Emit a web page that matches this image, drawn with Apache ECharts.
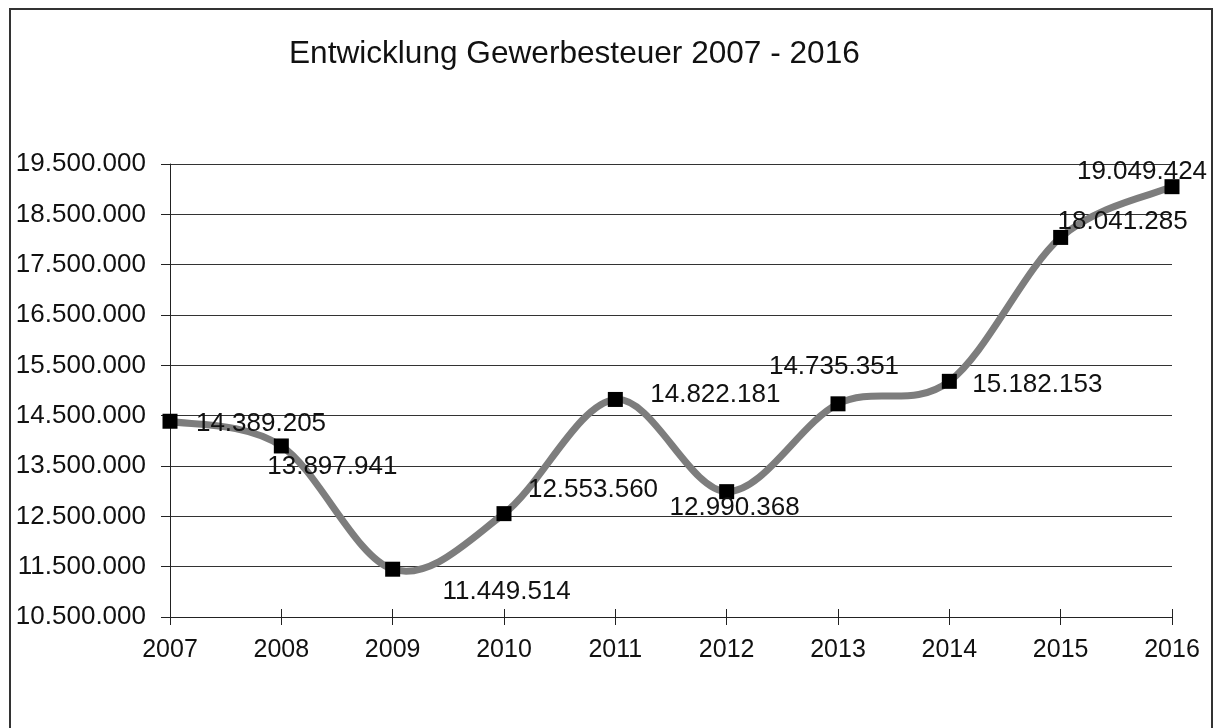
<!DOCTYPE html>
<html>
<head>
<meta charset="utf-8">
<script src="https://cdn.jsdelivr.net/npm/echarts@6/dist/echarts.min.js"></script>
<style>html,body{margin:0;padding:0;background:#fff}#c{width:1215px;height:728px}</style>
</head>
<body>
<div id="c"></div>
<script>
const years = ['2007','2008','2009','2010','2011','2012','2013','2014','2015','2016'];
const values = [14389205, 13897941, 11449514, 12553560, 14822181, 12990368, 14735351, 15182153, 18041285, 19049424];
const yMin = 10500000, yMax = 19500000, yStep = 1000000;
const titleText = 'Entwicklung Gewerbesteuer 2007 - 2016';
// label offsets (centre of label relative to the point), styling only
const labelOffsets = [[91,3],[51,21],[114,23],[89,-24],[100,-5],[8,16],[-4,-37],[88,3],[62,-16],[-30,-15]];

function fmt(v){ return String(Math.round(v)).replace(/\B(?=(\d{3})+(?!\d))/g, '.'); }

const FONT = 'Liberation Sans, Arial, sans-serif';
const chart = echarts.init(document.getElementById('c'), null, {renderer:'canvas'});

// Excel-like Catmull-Rom spline segment between point i and i+1
function renderSegment(params, api){
  const i = params.dataIndex;
  const n = values.length;
  if (i >= n - 1) return null;
  const P = k => api.coord([Math.max(0, Math.min(n - 1, k)), values[Math.max(0, Math.min(n - 1, k))]]);
  const p0 = P(i - 1), p1 = P(i), p2 = P(i + 1), p3 = P(i + 2);
  const t = 1 / 6;
  return {
    type:'bezierCurve',
    shape:{
      x1:p1[0], y1:p1[1], x2:p2[0], y2:p2[1],
      cpx1:p1[0] + (p2[0] - p0[0]) * t, cpy1:p1[1] + (p2[1] - p0[1]) * t,
      cpx2:p2[0] - (p3[0] - p1[0]) * t, cpy2:p2[1] - (p3[1] - p1[1]) * t
    },
    style:{fill:null, stroke:'#7d7d7d', lineWidth:7, lineCap:'round'}
  };
}

chart.setOption({
  animation:false,
  backgroundColor:'#fff',
  title:{text:titleText,left:284,top:33,textStyle:{fontFamily:FONT,fontSize:31.6,fontWeight:'normal',color:'#111'}},
  graphic:[{type:'rect',shape:{x:10,y:9,width:1202,height:760},style:{fill:'none',stroke:'#333',lineWidth:2},silent:true,z:-1}],
  grid:{left:170,right:43,top:164,bottom:111,containLabel:false},
  xAxis:[{
    type:'category',data:years,boundaryGap:false,
    axisLine:{lineStyle:{color:'#222',width:1}},
    axisTick:{show:true,length:8,lineStyle:{color:'#222'}},
    axisLabel:{fontFamily:FONT,fontSize:25,color:'#111',margin:21},
    splitLine:{show:false}
  },{
    type:'category',data:years,boundaryGap:false,position:'bottom',
    axisLine:{show:false},
    axisTick:{show:true,inside:true,length:8,lineStyle:{color:'#222'}},
    axisLabel:{show:false},splitLine:{show:false}
  }],
  yAxis:{
    type:'value',min:yMin,max:yMax,interval:yStep,
    axisLine:{show:true,lineStyle:{color:'#222',width:1}},
    axisTick:{show:true,length:9,lineStyle:{color:'#222'}},
    axisLabel:{fontFamily:FONT,fontSize:26,color:'#111',margin:24,formatter:fmt},
    splitLine:{show:true,lineStyle:{color:'#333',width:1}}
  },
  series:[{
    type:'custom',
    renderItem:renderSegment,
    data:values.map((v,i)=>[i,v]),
    encode:{x:0,y:1},
    clip:false,
    silent:true,
    z:2
  },{
    type:'line',
    data:values.map((v,i)=>({value:v,label:{offset:labelOffsets[i]}})),
    symbol:'rect',symbolSize:15,
    itemStyle:{color:'#000'},
    lineStyle:{width:0,opacity:0},
    label:{show:true,position:'inside',align:'center',verticalAlign:'middle',fontFamily:FONT,fontSize:26,color:'#111',formatter:p=>fmt(p.value)},
    z:3
  }]
});
</script>
</body>
</html>
